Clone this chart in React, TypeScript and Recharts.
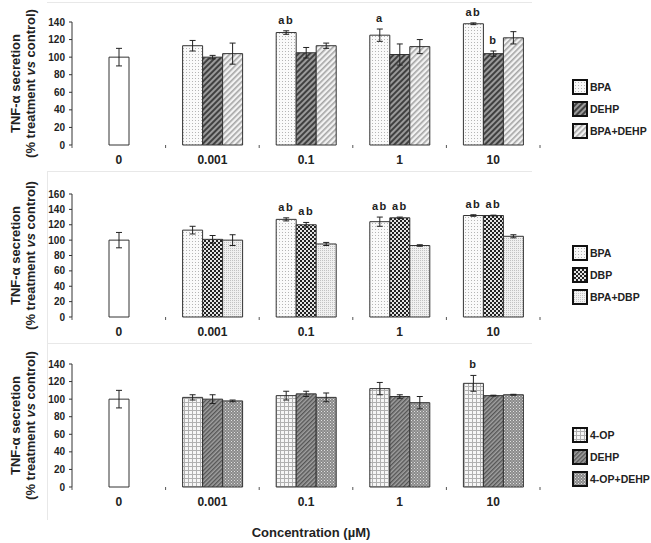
import React from 'react';
import { Bar, BarChart, ErrorBar, LabelList, XAxis, YAxis } from 'recharts';

const concentrations = ['0', '0.001', '0.1', '1', '10'];
const controlValue = 100;
const controlError = 10;

// top panel: BPA / DEHP / BPA+DEHP (values for 0.001, 0.1, 1, 10 µM)
const topNames = ['BPA', 'DEHP', 'BPA+DEHP'];
const topBpa = [113, 128, 125, 138];
const topBpaErr = [6, 2, 7, 1];
const topBpaSig = ['', 'ab', 'a', 'ab'];
const topDehp = [100, 105, 103, 104];
const topDehpErr = [2, 6, 12, 3];
const topDehpSig = ['', '', '', 'b'];
const topMix = [104, 113, 112, 122];
const topMixErr = [12, 3, 8, 7];
const topMixSig = ['', '', '', ''];
const topTicks = [0, 20, 40, 60, 80, 100, 120, 140];

// middle panel: BPA / DBP / BPA+DBP
const midNames = ['BPA', 'DBP', 'BPA+DBP'];
const midBpa = [113, 127, 124, 132];
const midBpaErr = [5, 2, 6, 1];
const midBpaSig = ['', 'ab', 'ab', 'ab'];
const midDbp = [101, 120, 129, 132];
const midDbpErr = [5, 3, 1, 0.5];
const midDbpSig = ['', 'ab', 'ab', 'ab'];
const midMix = [100, 95, 93, 105];
const midMixErr = [7, 2, 1, 2];
const midMixSig = ['', '', '', ''];
const midTicks = [0, 20, 40, 60, 80, 100, 120, 140, 160];

// bottom panel: 4-OP / DEHP / 4-OP+DEHP
const botNames = ['4-OP', 'DEHP', '4-OP+DEHP'];
const botOp = [102, 104, 112, 118];
const botOpErr = [3, 5, 7, 9];
const botOpSig = ['', '', '', 'b'];
const botDehp = [100, 106, 103, 104];
const botDehpErr = [5, 3, 2, 0.5];
const botDehpSig = ['', '', '', ''];
const botMix = [98, 102, 96, 105];
const botMixErr = [1, 5, 7, 0.5];
const botMixSig = ['', '', '', ''];
const botTicks = [0, 20, 40, 60, 80, 100, 120, 140];

const FONT = '"Liberation Sans", Arial, sans-serif';
const W = 651;
const H = 172;
const M = { top: 22, right: 111, bottom: 2, left: 32 };
const PLOT_BOTTOM = H - M.bottom - 25;
const BAND = (W - M.left - 40 - M.right) / concentrations.length;

function buildRows(s1, e1, g1, s2, e2, g2, s3, e3, g3) {
  return concentrations.map((c, i) => {
    if (i === 0) {
      return { conc: c, ctrl: controlValue, ctrlErr: controlError, s1: null, s2: null, s3: null };
    }
    const j = i - 1;
    return {
      conc: c, ctrl: null, ctrlErr: null,
      s1: s1[j], e1: e1[j], g1: g1[j],
      s2: s2[j], e2: e2[j], g2: g2[j],
      s3: s3[j], e3: e3[j], g3: g3[j],
    };
  });
}

const XTick = (props: any) => {
  const { x, payload, index } = props;
  return (
    <g>
      <line x1={x + BAND / 2} x2={x + BAND / 2} y1={PLOT_BOTTOM} y2={PLOT_BOTTOM + 3} stroke="#555" />
      {index === 0 && <line x1={x - BAND / 2} x2={x - BAND / 2} y1={PLOT_BOTTOM} y2={PLOT_BOTTOM + 3} stroke="#555" />}
      <text x={x} y={PLOT_BOTTOM + 10} dy="0.71em" textAnchor="middle" fontFamily={FONT} fontWeight="bold" fontSize={12} fill="#222">
        {payload.value}
      </text>
    </g>
  );
};

const YTitle = (props: any) => {
  const cy = props.viewBox.y + props.viewBox.height / 2;
  return (
    <g fontFamily={FONT} fontWeight="bold" fontSize={13} fill="#222" textAnchor="middle">
      <text transform={`translate(20 ${cy}) rotate(-90)`}>TNF-α secretion</text>
      <text transform={`translate(35 ${cy}) rotate(-90)`}>
        (% treatment <tspan fontStyle="italic">vs</tspan> control)
      </text>
    </g>
  );
};

// label value is "sig|err|value" so the letter can sit above the error bar
const sigKey = (i: number) => (row: any) =>
  row[`g${i}`] ? `${row[`g${i}`]}|${row[`e${i}`]}|${row[`s${i}`]}` : '';

const SigLabel = (p: any) => {
  if (!p.value) return null;
  const [sig, err, val] = String(p.value).split('|');
  const errPx = (Number(err) * p.height) / Number(val);
  return (
    <text
      x={p.x + p.width / 2}
      y={p.y - errPx - 7}
      textAnchor="middle"
      fontFamily={FONT}
      fontWeight="bold"
      fontSize={11}
      letterSpacing={1.5}
      fill="#222"
    >
      {sig}
    </text>
  );
};

function Panel({ top, rows, names, fills, ticks, legendTop }) {
  const yMax = ticks[ticks.length - 1];
  return (
    <div style={{ position: 'absolute', left: 0, top, width: W, height: H }}>
      <BarChart width={W} height={H} data={rows} margin={M} barGap={0}>
        <XAxis xAxisId="ctrl" dataKey="conc" hide />
        <XAxis
          xAxisId="main"
          dataKey="conc"
          height={25}
          tickLine={false}
          axisLine={{ stroke: '#333' }}
          tick={<XTick />}
        />
        <YAxis
          width={40}
          domain={[0, yMax]}
          ticks={ticks}
          interval={0}
          tickSize={3}
          tickMargin={4}
          axisLine={{ stroke: '#333' }}
          tickLine={{ stroke: '#333' }}
          tick={{ fontFamily: FONT, fontWeight: 'bold', fontSize: 10, fill: '#222' }}
          label={{ content: <YTitle /> }}
        />
        <Bar xAxisId="ctrl" dataKey="ctrl" barSize={20} fill="#fff" stroke="#333" isAnimationActive={false}>
          <ErrorBar dataKey="ctrlErr" width={3} stroke="#222" strokeWidth={1} />
        </Bar>
        {['s1', 's2', 's3'].map((k, i) => (
          <Bar
            key={k}
            xAxisId="main"
            dataKey={k}
            name={names[i]}
            barSize={20}
            fill={`url(#${fills[i]})`}
            stroke="#333"
            isAnimationActive={false}
          >
            <ErrorBar dataKey={`e${i + 1}`} width={3} stroke="#222" strokeWidth={1} />
            <LabelList dataKey={sigKey(i + 1)} content={<SigLabel />} />
          </Bar>
        ))}
      </BarChart>
      <div style={{ position: 'absolute', left: 572, top: legendTop, fontFamily: FONT, fontWeight: 'bold', fontSize: 10.5, color: '#222', whiteSpace: 'nowrap' }}>
        {names.map((n, i) => (
          <div key={n} style={{ display: 'flex', alignItems: 'center', height: 22 }}>
            <svg width={16} height={16} style={{ marginRight: 2 }}>
              <rect x={1} y={1} width={14} height={14} fill={`url(#${fills[i]})`} stroke="#111" strokeWidth={2} />
            </svg>
            {n}
          </div>
        ))}
      </div>
    </div>
  );
}

const Patterns = () => (
  <svg width={0} height={0} style={{ position: 'absolute' }}>
    <defs>
      <pattern id="dotLight" width={3} height={3} patternUnits="userSpaceOnUse">
        <rect width={3} height={3} fill="#fafafa" />
        <rect width={1} height={1} fill="#b5b5b5" />
      </pattern>
      <pattern id="hatchDark" width={4} height={4} patternUnits="userSpaceOnUse" patternTransform="rotate(45)">
        <rect width={4} height={4} fill="#9a9a9a" />
        <rect width={2} height={4} fill="#404040" />
      </pattern>
      <pattern id="hatchLight" width={4} height={4} patternUnits="userSpaceOnUse" patternTransform="rotate(45)">
        <rect width={4} height={4} fill="#f2f2f2" />
        <rect width={1.6} height={4} fill="#a4a4a4" />
      </pattern>
      <pattern id="checkDark" width={4} height={4} patternUnits="userSpaceOnUse">
        <rect width={4} height={4} fill="#e4e4e4" />
        <rect width={2} height={2} fill="#222" />
        <rect x={2} y={2} width={2} height={2} fill="#222" />
      </pattern>
      <pattern id="dotGray" width={2} height={2} patternUnits="userSpaceOnUse">
        <rect width={2} height={2} fill="#f0f0f0" />
        <rect width={1} height={1} fill="#c2c2c2" />
      </pattern>
      <pattern id="grid" width={4} height={4} patternUnits="userSpaceOnUse">
        <rect width={4} height={4} fill="#f6f6f6" />
        <rect width={1} height={4} fill="#b0b0b0" />
        <rect width={4} height={1} fill="#b0b0b0" />
      </pattern>
      <pattern id="hatchMid" width={3} height={3} patternUnits="userSpaceOnUse" patternTransform="rotate(45)">
        <rect width={3} height={3} fill="#a0a0a0" />
        <rect width={1.4} height={3} fill="#555" />
      </pattern>
      <pattern id="dotMid" width={3} height={3} patternUnits="userSpaceOnUse">
        <rect width={3} height={3} fill="#8a8a8a" />
        <rect width={1} height={1} fill="#e0e0e0" />
        <rect x={1.5} y={1.5} width={1} height={1} fill="#d0d0d0" />
      </pattern>
    </defs>
  </svg>
);

const topRows = buildRows(topBpa, topBpaErr, topBpaSig, topDehp, topDehpErr, topDehpSig, topMix, topMixErr, topMixSig);
const midRows = buildRows(midBpa, midBpaErr, midBpaSig, midDbp, midDbpErr, midDbpSig, midMix, midMixErr, midMixSig);
const botRows = buildRows(botOp, botOpErr, botOpSig, botDehp, botDehpErr, botDehpSig, botMix, botMixErr, botMixSig);

export default function App() {
  return (
    <div style={{ position: 'absolute', left: 0, top: 0, width: W, height: 543, background: '#fff', overflow: 'hidden' }}>
      <Patterns />
      <svg width={W} height={543} style={{ position: 'absolute', left: 0, top: 0 }}>
        <g stroke="#e8e8e8" strokeWidth={1}>
          <line x1={47} x2={532} y1={2.5} y2={2.5} />
          <line x1={47} x2={532} y1={171.5} y2={171.5} />
          <line x1={47} x2={532} y1={343.5} y2={343.5} />
          <line x1={47.5} x2={47.5} y1={171} y2={520} />
        </g>
      </svg>
      <Panel top={0} rows={topRows} names={topNames} fills={['dotLight', 'hatchDark', 'hatchLight']} ticks={topTicks} legendTop={76} />
      <Panel top={172} rows={midRows} names={midNames} fills={['dotLight', 'checkDark', 'dotGray']} ticks={midTicks} legendTop={70} />
      <Panel top={342} rows={botRows} names={botNames} fills={['grid', 'hatchMid', 'dotMid']} ticks={botTicks} legendTop={82} />
      <div
        style={{
          position: 'absolute', left: 0, width: 622, top: 525, textAlign: 'center',
          fontFamily: FONT, fontWeight: 'bold', fontSize: 13, color: '#222',
        }}
      >
        Concentration (µM)
      </div>
    </div>
  );
}
